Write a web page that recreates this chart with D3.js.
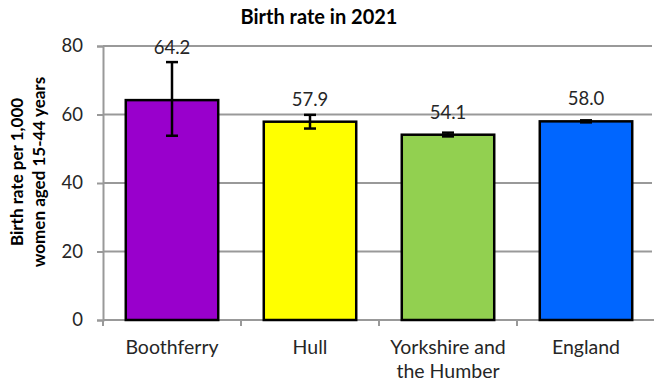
<!DOCTYPE html>
<html>
<head>
<meta charset="utf-8">
<script src="https://cdn.jsdelivr.net/npm/d3@7"></script>
<style>
  html, body { margin: 0; padding: 0; background: #fff; }
  svg { display: block; font-family: Lato, "Open Sans", sans-serif; }
</style>
</head>
<body>
<svg id="chart" width="654" height="385"></svg>
<script>
// Birth rate per 1,000 women aged 15-44, 2021, with confidence intervals
const categories = ["Boothferry", "Hull", "Yorkshire and\nthe Humber", "England"];
const values = [64.2, 57.9, 54.1, 58.0];
const lowerCI = [53.8, 55.9, 53.6, 57.7];
const upperCI = [75.3, 59.9, 54.7, 58.3];
const barColors = ["#9900CC", "#FFFF00", "#92D050", "#0066FF"];
const yTicks = [0, 20, 40, 60, 80];

const data = categories.map((c, i) => ({
  cat: c, value: values[i], lo: lowerCI[i], hi: upperCI[i], color: barColors[i]
}));

const svg = d3.select("#chart");
const margin = { top: 46, right: 0, bottom: 65, left: 103 };
const width = 654, height = 385;
const textColor = "#262626";

const x = d3.scaleBand()
  .domain(categories)
  .range([margin.left, margin.left + 4 * 138])
  .paddingInner(0.33)
  .paddingOuter(0.165);

const y = d3.scaleLinear()
  .domain([0, 80])
  .range([height - margin.bottom, margin.top]);

// Title
svg.append("text")
  .attr("x", 319).attr("y", 24)
  .attr("text-anchor", "middle")
  .attr("font-size", 20).attr("font-weight", "bold")
  .attr("fill", "#000")
  .text("Birth rate in 2021");

// Gridlines
svg.append("g")
  .selectAll("line")
  .data(yTicks.filter(d => d > 0))
  .join("line")
  .attr("x1", margin.left).attr("x2", 652)
  .attr("y1", d => y(d)).attr("y2", d => y(d))
  .attr("stroke", "#999").attr("stroke-width", 2);

// Y axis
const yAxis = svg.append("g")
  .attr("transform", `translate(${margin.left},0)`)
  .call(d3.axisLeft(y).tickValues(yTicks).tickSize(6).tickPadding(14));
yAxis.select(".domain").attr("stroke", "#999").attr("stroke-width", 2);
yAxis.selectAll(".tick line").attr("stroke", "#999").attr("stroke-width", 2);
yAxis.selectAll(".tick text")
  .attr("font-size", 18.5).attr("fill", textColor)
  .attr("font-family", "Lato, sans-serif");

// X axis
const xBottom = y(0);
const bandStep = x.step();
const xAxisG = svg.append("g");
xAxisG.append("line")
  .attr("x1", margin.left).attr("x2", 654)
  .attr("y1", xBottom).attr("y2", xBottom)
  .attr("stroke", "#999").attr("stroke-width", 2);
xAxisG.selectAll("line.tk")
  .data(d3.range(0, 5))
  .join("line").attr("class", "tk")
  .attr("x1", i => margin.left + i * bandStep)
  .attr("x2", i => margin.left + i * bandStep)
  .attr("y1", xBottom).attr("y2", xBottom + 6)
  .attr("stroke", "#999").attr("stroke-width", 2);

// Category labels
svg.append("g")
  .selectAll("text")
  .data(data)
  .join("text")
  .attr("x", d => x(d.cat) + x.bandwidth() / 2)
  .attr("y", xBottom + 34)
  .attr("text-anchor", "middle")
  .attr("font-size", 19.5).attr("fill", textColor)
  .each(function(d) {
    const lines = d.cat.split("\n");
    d3.select(this).selectAll("tspan")
      .data(lines).join("tspan")
      .attr("x", x(d.cat) + x.bandwidth() / 2)
      .attr("dy", (l, i) => i === 0 ? 0 : 24)
      .text(l => l);
  });

// Bars
svg.append("g")
  .selectAll("rect")
  .data(data)
  .join("rect")
  .attr("x", d => x(d.cat))
  .attr("y", d => y(d.value))
  .attr("width", x.bandwidth())
  .attr("height", d => y(0) - y(d.value))
  .attr("fill", d => d.color)
  .attr("stroke", "#000").attr("stroke-width", 2.5);

// Error bars
const eb = svg.append("g").attr("stroke", "#000").attr("stroke-width", 2.5);
data.forEach(d => {
  const cx = x(d.cat) + x.bandwidth() / 2;
  eb.append("line").attr("x1", cx).attr("x2", cx).attr("y1", y(d.hi)).attr("y2", y(d.lo));
  eb.append("line").attr("x1", cx - 6).attr("x2", cx + 6).attr("y1", y(d.hi)).attr("y2", y(d.hi));
  eb.append("line").attr("x1", cx - 6).attr("x2", cx + 6).attr("y1", y(d.lo)).attr("y2", y(d.lo));
});

// Value labels
svg.append("g")
  .selectAll("text")
  .data(data)
  .join("text")
  .attr("x", d => x(d.cat) + x.bandwidth() / 2)
  .attr("y", d => Math.min(y(d.value) - 16, y(d.hi) - 8))
  .attr("text-anchor", "middle")
  .attr("font-size", 18.5).attr("fill", textColor)
  .text(d => d.value.toFixed(1));

// Y axis title
const yt = svg.append("text")
  .attr("transform", "translate(23,172) rotate(-90)")
  .attr("text-anchor", "middle")
  .attr("font-size", 17).attr("font-weight", "bold").attr("fill", "#000");
yt.append("tspan").attr("x", 0).attr("dy", 0).text("Birth rate per 1,000");
yt.append("tspan").attr("x", 0).attr("dy", 22).text("women aged 15-44 years");
</script>
</body>
</html>
